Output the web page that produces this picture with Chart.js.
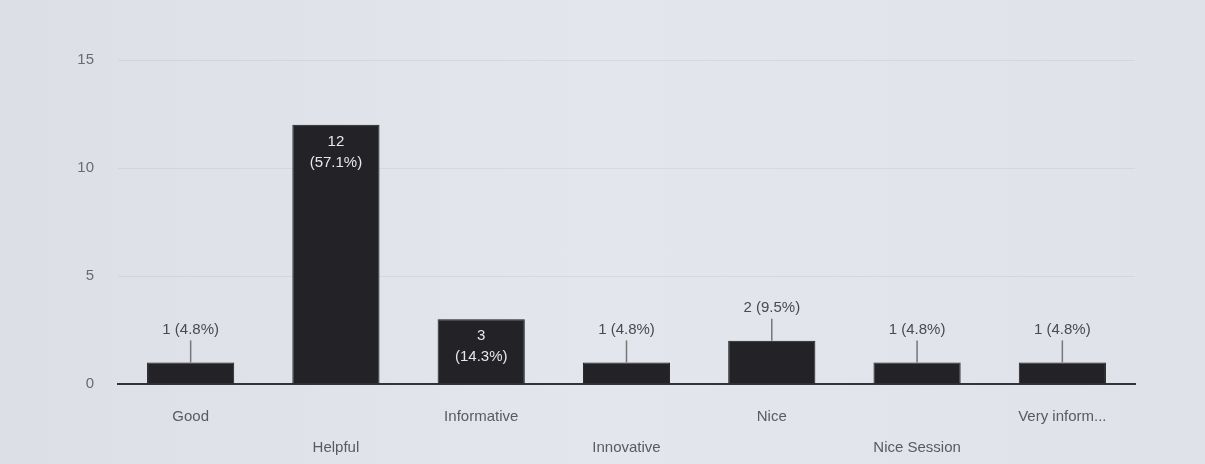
<!DOCTYPE html>
<html>
<head>
<meta charset="utf-8">
<script src="https://cdn.jsdelivr.net/npm/chart.js@4"></script>
<style>
  html, body { margin: 0; padding: 0; background: #dfe2e8; }
  #wrap { width: 1205px; height: 464px; position: relative; background: linear-gradient(90deg, #dcdfe6 0%, #e3e6ec 50%, #dfe2e9 100%); }
</style>
</head>
<body>
<div id="wrap"><canvas id="c" width="1205" height="464"></canvas></div>
<script>
const categories = ["Good", "Helpful", "Informative", "Innovative", "Nice", "Nice Session", "Very inform..."];
const counts = [1, 12, 3, 1, 2, 1, 1];
const percents = ["4.8%", "57.1%", "14.3%", "4.8%", "9.5%", "4.8%", "4.8%"];
const yTicks = [0, 5, 10, 15];

const valueLabels = {
  id: 'valueLabels',
  afterDatasetsDraw(chart) {
    const ctx = chart.ctx;
    const meta = chart.getDatasetMeta(0);
    ctx.save();
    ctx.font = '15px "Liberation Sans", Arial, sans-serif';
    ctx.textAlign = 'center';
    ctx.textBaseline = 'middle';
    meta.data.forEach((bar, i) => {
      const v = counts[i];
      const p = percents[i];
      const x = bar.x, top = bar.y;
      if (v >= 3) {
        ctx.fillStyle = '#e8e8ea';
        ctx.fillText(String(v), x, top + 17);
        ctx.fillText('(' + p + ')', x, top + 38);
      } else {
        ctx.strokeStyle = '#777';
        ctx.lineWidth = 1.5;
        ctx.beginPath();
        ctx.moveTo(x, top);
        ctx.lineTo(x, top - 22);
        ctx.stroke();
        ctx.fillStyle = '#4a4a4e';
        ctx.fillText(v + ' (' + p + ')', x, top - 33);
      }
    });
    ctx.restore();
  }
};

new Chart(document.getElementById('c'), {
  type: 'bar',
  data: {
    labels: categories,
    datasets: [{
      data: counts,
      backgroundColor: '#232327',
      borderColor: '#1a1a1d',
      borderWidth: 1,
      barPercentage: 0.6,
      categoryPercentage: 1.0
    }]
  },
  plugins: [valueLabels],
  options: {
    responsive: false,
    animation: false,
    layout: { padding: { top: 60, right: 70, left: 0, bottom: 0 } },
    plugins: { legend: { display: false }, tooltip: { enabled: false } },
    scales: {
      y: {
        min: 0, max: 15,
        afterBuildTicks(scale) { scale.ticks = yTicks.map(v => ({ value: v })); },
        afterFit(scale) { scale.width = 118; },
        ticks: {
          color: '#6a6a70',
          padding: 24,
          font: { size: 15, family: '"Liberation Sans", Arial, sans-serif' }
        },
        grid: { color: 'rgba(0,0,0,0.05)', drawTicks: false },
        border: { display: false }
      },
      x: {
        afterFit(scale) { scale.height = 80; },
        grid: { display: false, drawTicks: false },
        border: { color: '#333338', width: 2 },
        ticks: {
          autoSkip: false,
          maxRotation: 0,
          minRotation: 0,
          padding: 17,
          color: '#5a5a60',
          font: { size: 15, family: '"Liberation Sans", Arial, sans-serif', lineHeight: 2.1 },
          callback(value, index) {
            const lab = categories[index];
            return index % 2 === 1 ? ['', lab] : lab;
          }
        }
      }
    }
  }
});
</script>
</body>
</html>
